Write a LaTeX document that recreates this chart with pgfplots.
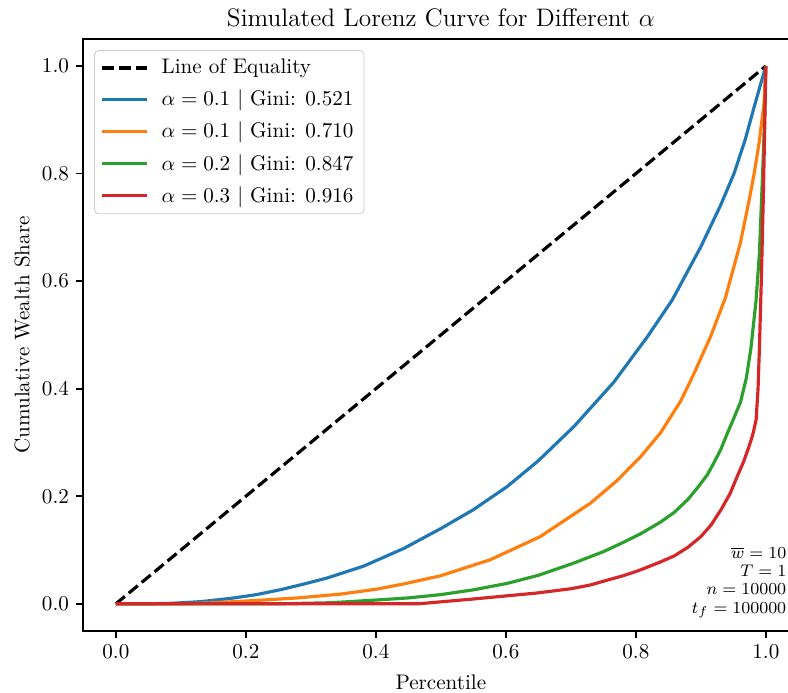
\documentclass[border=0pt]{standalone}
\usepackage{pgfplots}
\pgfplotsset{compat=1.18}
\definecolor{tabblue}{HTML}{1F77B4}
\definecolor{taborange}{HTML}{FF7F0E}
\definecolor{tabgreen}{HTML}{2CA02C}
\definecolor{tabred}{HTML}{D62728}
\begin{document}
\begin{tikzpicture}
\path[use as bounding box] (-39.5pt,-29.05pt) rectangle (334pt,298.95pt);
\clip (-39.5pt,-29.05pt) rectangle (334pt,298.95pt);
\begin{axis}[
  at={(0pt,0pt)}, anchor=south west,
  scale only axis, width=338.9pt, height=280.4pt,
  xmin=-0.05, xmax=1.05, ymin=-0.05, ymax=1.05,
  xtick={0,0.2,0.4,0.6,0.8,1.0}, ytick={0,0.2,0.4,0.6,0.8,1.0},
  xticklabel style={/pgf/number format/.cd, fixed, fixed zerofill, precision=1},
  yticklabel style={/pgf/number format/.cd, fixed, fixed zerofill, precision=1},
  tick align=outside, xtick pos=left, ytick pos=left,
  major tick length=3.3pt,
  every tick/.style={black, line width=0.8pt},
  axis line style={line width=0.8pt},
  title={Simulated Lorenz Curve for Different $\alpha$},
  title style={font=\large, yshift=-4pt},
  xlabel={Percentile}, ylabel={Cumulative Wealth Share},
  every axis x label/.style={at={(axis description cs:0.5,0)}, anchor=center, yshift=-24.6pt},
  every axis y label/.style={at={(axis description cs:-0.0856,0.5)}, rotate=90, anchor=center},
  legend cell align=left,
  legend image code/.code={\draw[#1] (0pt,0pt) -- (21pt,0pt);},
  legend style={at={(0,1)}, anchor=north west, xshift=5.1pt, yshift=-5.2pt,
    draw=black!20, rounded corners=2pt, fill=white, fill opacity=0.8, text opacity=1,
    inner xsep=3pt, inner ysep=2pt, row sep=2.2pt, column sep=4.3pt, font=\normalsize},
]
\addplot[black, line width=1.5pt, dash pattern=on 5.55pt off 2.4pt] coordinates {(0,0) (1,1)};
\addlegendentry{Line of Equality}
\addplot[tabblue, line width=1.5pt] coordinates {
(0,0) (0.05,0) (0.086,0.001) (0.13,0.004) (0.176,0.010) (0.216,0.017) (0.256,0.027) (0.29,0.037) (0.325,0.048) (0.381,0.070) (0.443,0.103) (0.50,0.140) (0.55,0.175) (0.602,0.218) (0.65,0.266) (0.705,0.330) (0.766,0.412) (0.818,0.497) (0.856,0.565) (0.90,0.664) (0.93,0.740) (0.951,0.800) (0.968,0.862) (0.982,0.924) (1,1)};
\addlegendentry{$\alpha = 0.1$ $|$ Gini: 0.521}
\addplot[taborange, line width=1.5pt] coordinates {
(0,0) (0.10,0.0) (0.15,0.002) (0.212,0.006) (0.28,0.011) (0.345,0.018) (0.40,0.027) (0.443,0.037) (0.499,0.052) (0.576,0.082) (0.653,0.125) (0.730,0.187) (0.770,0.228) (0.807,0.273) (0.838,0.318) (0.869,0.377) (0.889,0.427) (0.915,0.497) (0.938,0.570) (0.961,0.672) (0.975,0.755) (0.982,0.800) (0.990,0.860) (0.997,0.930) (1,1)};
\addlegendentry{$\alpha = 0.1$ $|$ Gini: 0.710}
\addplot[tabgreen, line width=1.5pt] coordinates {
(0,0) (0.25,0) (0.33,0.002) (0.40,0.007) (0.45,0.011) (0.499,0.017) (0.55,0.026) (0.602,0.038) (0.65,0.053) (0.705,0.076) (0.75,0.097) (0.782,0.115) (0.807,0.130) (0.838,0.152) (0.859,0.170) (0.880,0.194) (0.895,0.216) (0.910,0.240) (0.920,0.262) (0.931,0.288) (0.940,0.315) (0.950,0.343) (0.961,0.375) (0.970,0.420) (0.977,0.475) (0.985,0.565) (0.990,0.650) (0.995,0.800) (0.998,0.900) (1,1)};
\addlegendentry{$\alpha = 0.2$ $|$ Gini: 0.847}
\addplot[tabred, line width=1.5pt] coordinates {
(0,0) (0.465,0) (0.55,0.009) (0.647,0.020) (0.70,0.028) (0.73,0.035) (0.756,0.044) (0.78,0.052) (0.807,0.063) (0.838,0.078) (0.859,0.089) (0.880,0.105) (0.900,0.125) (0.916,0.147) (0.931,0.175) (0.945,0.205) (0.956,0.237) (0.966,0.265) (0.974,0.292) (0.980,0.315) (0.985,0.342) (0.988,0.40) (0.990,0.472) (0.993,0.60) (0.996,0.75) (0.998,0.87) (1,1)};
\addlegendentry{$\alpha = 0.3$ $|$ Gini: 0.916}
\node[anchor=south east, align=right, inner sep=0pt, font=\fontsize{8.5}{8.6}\selectfont] at (axis cs:1.032,-0.028)
  {$\overline{w} = 10$\\ $T = 1$\\ $n = 10000$\\ $t_f = 100000$};
\end{axis}
\end{tikzpicture}
\end{document}
